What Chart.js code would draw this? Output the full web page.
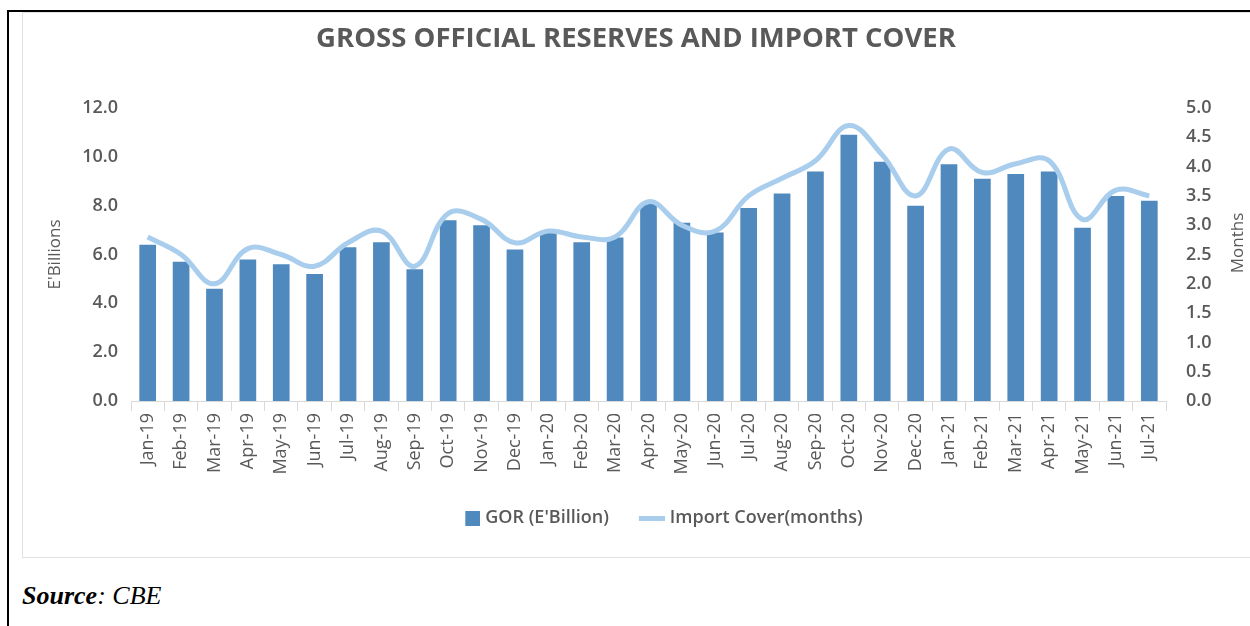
<!DOCTYPE html>
<html>
<head>
<meta charset="utf-8">
<script src="https://cdn.jsdelivr.net/npm/chart.js@4"></script>
<style>
  html, body { margin: 0; padding: 0; background: #fff; }
  body { width: 1250px; height: 626px; position: relative; overflow: hidden; }
  #outline { position: absolute; left: 7px; top: 10px; right: 0; bottom: 0; border-top: 2px solid #000; border-left: 2px solid #000; }
  #frame { position: absolute; left: 22px; top: 12px; width: 1228px; height: 546px; box-sizing: border-box; border: 1px solid #e2e2e2; border-right: none; }
  #box { position: absolute; left: 0; top: 0; width: 1226px; height: 544px; }
  #source { position: absolute; left: 22px; top: 581px; font-family: "Liberation Serif", serif; font-style: italic; font-size: 26px; color: #000; }
</style>
</head>
<body>
<div id="outline"></div>
<div id="frame"><div id="box"><canvas id="myChart"></canvas></div></div>
<div id="source"><b>Source</b>: CBE</div>
<script>
var months = ['Jan-19', 'Feb-19', 'Mar-19', 'Apr-19', 'May-19', 'Jun-19', 'Jul-19', 'Aug-19', 'Sep-19', 'Oct-19', 'Nov-19', 'Dec-19',
    'Jan-20', 'Feb-20', 'Mar-20', 'Apr-20', 'May-20', 'Jun-20', 'Jul-20', 'Aug-20', 'Sep-20', 'Oct-20', 'Nov-20', 'Dec-20',
    'Jan-21', 'Feb-21', 'Mar-21', 'Apr-21', 'May-21', 'Jun-21', 'Jul-21'];
var gor = [6.4, 5.7, 4.6, 5.8, 5.6, 5.2, 6.3, 6.5, 5.4, 7.4, 7.2, 6.2,
    6.9, 6.5, 6.7, 8.1, 7.3, 6.9, 7.9, 8.5, 9.4, 10.9, 9.8, 8.0,
    9.7, 9.1, 9.3, 9.4, 7.1, 8.4, 8.2];
var importCover = [2.8, 2.5, 2.0, 2.6, 2.5, 2.3, 2.7, 2.9, 2.3, 3.2, 3.1, 2.7,
    2.9, 2.8, 2.8, 3.4, 3.0, 2.9, 3.5, 3.8, 4.1, 4.7, 4.2, 3.5,
    4.3, 3.9, 4.05, 4.1, 3.1, 3.6, 3.5];

var barColor = '#4f89bd';
var lineColor = '#a9cdec';
var textColor = '#595959';
var font = "'Open Sans', sans-serif";

// legend symbols, drawn at the right side of a small canvas
function legendIcon(w, h, color) {
    var c = document.createElement('canvas');
    c.width = 50;
    c.height = h;
    var g = c.getContext('2d');
    g.fillStyle = color;
    g.fillRect(50 - w, 0, w, h);
    return c;
}
var barIcon = legendIcon(15, 15, barColor);
var lineIcon = legendIcon(26, 5, lineColor);

// right axis title reads bottom to top like the left one
var rightTitle = {
    id: 'rightTitle',
    afterDraw: function (chart) {
        var ctx = chart.ctx;
        ctx.save();
        ctx.translate(1215, 230);
        ctx.rotate(-Math.PI / 2);
        ctx.font = '17px ' + font;
        ctx.fillStyle = textColor;
        ctx.textAlign = 'center';
        ctx.textBaseline = 'middle';
        ctx.fillText('Months', 0, 0);
        ctx.restore();
    }
};

var ctx = document.getElementById('myChart').getContext('2d');
var myChart = new Chart(ctx, {
    type: 'bar',
    data: {
        labels: months,
        datasets: [{
            label: "GOR (E'Billion)",
            data: gor,
            backgroundColor: barColor,
            barPercentage: 0.5,
            categoryPercentage: 1,
            yAxisID: 'y',
            order: 1,
            pointStyle: barIcon
        }, {
            type: 'line',
            label: 'Import Cover(months)',
            data: importCover,
            borderColor: lineColor,
            backgroundColor: lineColor,
            borderWidth: 5,
            tension: 0.4,
            pointRadius: 0,
            yAxisID: 'y1',
            order: 0,
            pointStyle: lineIcon
        }]
    },
    options: {
        responsive: true,
        maintainAspectRatio: false,
        animation: false,
        layout: { padding: { bottom: 20 } },
        plugins: {
            title: {
                display: true,
                text: 'GROSS OFFICIAL RESERVES AND IMPORT COVER',
                color: textColor,
                font: { family: font, size: 27.5, weight: 'bold' },
                padding: { top: 10, bottom: 52 }
            },
            legend: {
                position: 'bottom',
                fullSize: false,
                labels: {
                    usePointStyle: true,
                    pointStyleWidth: 42,
                    color: textColor,
                    font: { family: font, size: 18, weight: '600' },
                    padding: 10,
                    sort: function (a, b) { return a.datasetIndex - b.datasetIndex; }
                }
            },
            tooltip: { enabled: false }
        },
        scales: {
            x: {
                grid: { drawOnChartArea: false, drawTicks: true, tickLength: 10, color: '#d9d9d9' },
                border: { color: '#d9d9d9' },
                ticks: {
                    minRotation: 90, maxRotation: 90, autoSkip: false, padding: 2,
                    color: textColor,
                    font: { family: font, size: 18 }
                },
                afterFit: function (s) { s.height = 98; }
            },
            y: {
                position: 'left',
                min: 0, max: 12,
                grid: { display: false },
                border: { display: false },
                ticks: {
                    stepSize: 2, padding: 5,
                    color: textColor,
                    font: { family: font, size: 18, weight: '600' },
                    callback: function (v) { return v.toFixed(1); }
                },
                title: {
                    display: true, text: "E'Billions",
                    color: textColor,
                    font: { family: font, size: 17 },
                    padding: { top: 22, bottom: 0 }
                },
                afterFit: function (s) { s.width = 108; }
            },
            y1: {
                position: 'right',
                min: 0, max: 5,
                grid: { display: false },
                border: { display: false },
                ticks: {
                    stepSize: 0.5, padding: 12,
                    color: textColor,
                    font: { family: font, size: 18, weight: '600' },
                    callback: function (v) { return v.toFixed(1); }
                },
                afterFit: function (s) { s.width = 83; }
            }
        }
    },
    plugins: [rightTitle]
});
</script>
</body>
</html>
